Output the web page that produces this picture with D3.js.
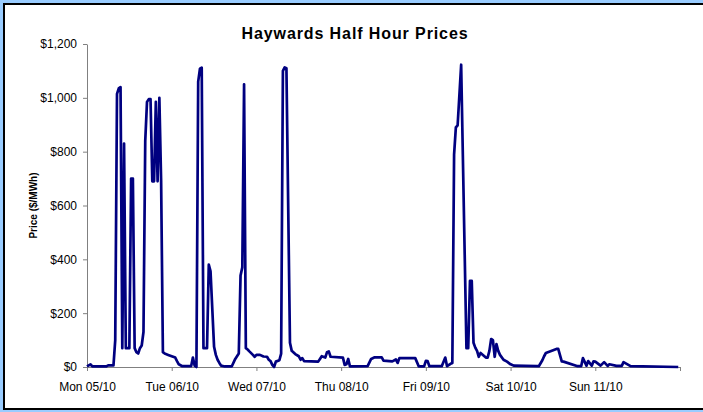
<!DOCTYPE html>
<html>
<head>
<meta charset="utf-8">
<script src="https://cdn.jsdelivr.net/npm/d3@7"></script>
<style>
  body { margin: 0; background: #99ccff; }
  svg { display: block; }
  .axis path, .axis line { stroke: #808080; }
  .axis text { font-family: Arial, "Liberation Sans", sans-serif; font-size: 12px; fill: #000; }
</style>
</head>
<body>
<svg id="chart"></svg>
<script>
// x tick labels, one per day
let days = ['Mon 05/10', 'Tue 06/10', 'Wed 07/10', 'Thu 08/10', 'Fri 09/10', 'Sat 10/10', 'Sun 11/10', ''];
let yTicks = [0, 200, 400, 600, 800, 1000, 1200];

// hours since Mon 05/10 00:00
let hours = [
	0, 1, 1.5, 5.5, 6, 7.5, 8, 8.5, 9, 9.5, 10, 10.5, 11, 12, 12.5, 13, 13.5, 14, 14.5, 15,
	15.5, 16, 16.5, 17, 17.5, 18, 18.5, 19, 19.5, 20, 20.5, 21, 21.5, 22, 23, 24, 25, 25.5, 26, 27,
	29.5, 30, 30.5, 31, 31.5, 32, 32.5, 33, 34, 34.5, 35, 36, 36.5, 37, 37.5, 38, 39, 41, 42, 43,
	43.5, 44, 44.5, 45, 45.5, 46, 47, 47.5, 48, 49, 50, 51, 51.5, 52, 52.5, 53, 53.5, 54.5, 55, 55.5,
	56, 56.5, 57.5, 58, 59, 60, 60.5, 61, 61.5, 65.5, 66, 66.5, 67.5, 68, 68.5, 69, 72.5, 73, 73.5, 74,
	74.5, 79.5, 80.5, 81.5, 83.5, 84, 86.5, 87.5, 88, 88.5, 93, 94, 95.5, 96, 96.5, 97, 100.5, 101.5, 102, 103,
	103.5, 104, 104.5, 105, 106, 107.5, 108, 108.5, 109, 109.5, 110, 110.5, 111, 111.5, 113, 113.5, 114, 114.5, 115, 115.5,
	116, 116.5, 117, 118, 119, 120, 121, 127.5, 128, 129, 129.5, 130, 133, 133.5, 134.5, 135, 139, 140, 140.5, 141.5,
	142, 143, 143.5, 144, 145.5, 146.5, 147.5, 148, 150, 151.5, 152, 154, 167.5
];
// price $/MWh at those times
let prices = [
	2, 10, 2, 2, 6, 6, 100, 1015, 1035, 1040, 70, 830, 70, 70, 700, 700, 70, 55, 50, 70,
	80, 130, 840, 985, 995, 995, 690, 690, 985, 690, 1000, 690, 55, 50, 45, 40, 35, 22, 10, 3,
	3, 35, 5, 0, 1060, 1108, 1112, 70, 70, 380, 355, 75, 45, 27, 15, 5, 2, 2, 30, 50,
	340, 370, 1050, 70, 65, 58, 45, 38, 45, 45, 39, 38, 27, 22, 8, 0, 20, 25, 50, 1100,
	1113, 1110, 90, 60, 48, 40, 27, 33, 22, 20, 30, 40, 35, 55, 58, 38, 35, 8, 10, 30,
	2, 3, 30, 36, 36, 24, 21, 28, 15, 33, 33, 2, 2, 23, 22, 3, 3, 35, 3, 12,
	15, 790, 890, 898, 1123, 70, 70, 320, 320, 90, 72, 60, 38, 52, 35, 35, 60, 104, 100, 38,
	85, 60, 45, 27, 20, 10, 5, 3, 3, 25, 40, 52, 67, 67, 21, 20, 3, 3, 33, 5,
	22, 5, 21, 20, 5, 18, 4, 10, 4, 4, 18, 3, 0, 0
];

let width = 703, height = 412;
let x0 = 87, x1 = 680, yTop = 44, yBottom = 367;

let svg = d3.select('#chart')
	.attr('width', width)
	.attr('height', height);

// white chart area with dark frame (right side runs off the picture)
svg.append('rect')
	.attr('x', 4).attr('y', 4)
	.attr('width', width + 10).attr('height', 405)
	.attr('fill', '#fff')
	.attr('stroke', '#000')
	.attr('stroke-width', 2);

let xScale = d3.scaleLinear().domain([0, 168]).range([x0, x1]);
let yScale = d3.scaleLinear().domain([0, 1200]).range([yBottom, yTop]);

let xAxis = d3.axisBottom(xScale)
	.tickValues(d3.range(0, 169, 24))
	.tickFormat((d, i) => days[i])
	.tickSize(4)
	.tickSizeOuter(0);

let yAxis = d3.axisLeft(yScale)
	.tickValues(yTicks)
	.tickFormat(d => '$' + d3.format(',')(d))
	.tickSize(4)
	.tickSizeOuter(0);

svg.append('g')
	.attr('class', 'axis')
	.attr('transform', `translate(0, ${yBottom})`)
	.call(xAxis)
	.selectAll('text').attr('y', 23.5).attr('dy', 0);

svg.append('g')
	.attr('class', 'axis')
	.attr('transform', `translate(${x0}, 0)`)
	.call(yAxis)
	.selectAll('text').attr('x', -10);

let series = hours.map((h, i) => ({ h: h, p: prices[i] }));

let line = d3.line()
	.x(d => xScale(d.h))
	.y(d => yScale(d.p));

svg.append('path')
	.datum(series)
	.attr('fill', 'none')
	.attr('stroke', '#000080')
	.attr('stroke-width', 2.7)
	.attr('stroke-linejoin', 'round')
	.attr('d', line);

// LABELS
svg.append('text')
	.attr('x', 355)
	.attr('y', 39)
	.style('text-anchor', 'middle')
	.style('font-family', 'Arial, "Liberation Sans", sans-serif')
	.style('font-weight', 'bold')
	.style('font-size', '16px')
	.style('letter-spacing', '0.9px')
	.text('Haywards Half Hour Prices');

svg.append('text')
	.attr('transform', 'rotate(-90)')
	.attr('x', -(yTop + yBottom) / 2)
	.attr('y', 37)
	.style('text-anchor', 'middle')
	.style('font-family', 'Arial, "Liberation Sans", sans-serif')
	.style('font-weight', 'bold')
	.style('font-size', '10px')
	.text('Price ($/MWh)');
</script>
</body>
</html>
